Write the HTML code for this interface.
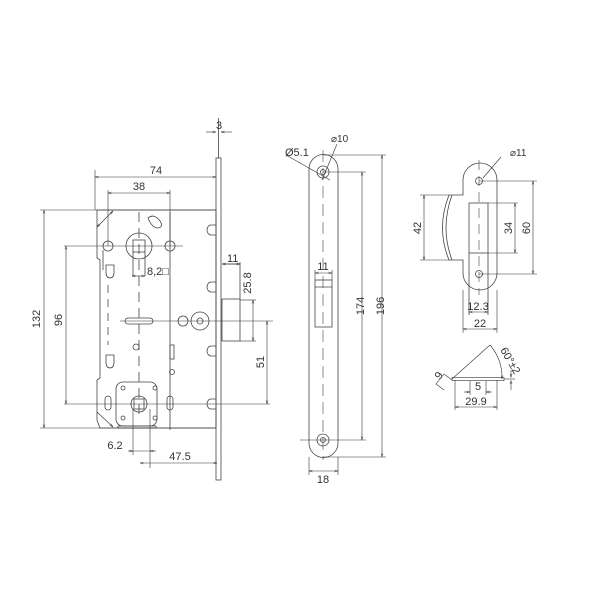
<!DOCTYPE html>
<html><head><meta charset="utf-8"><style>
html,body{margin:0;padding:0;background:#fff;}
svg{display:block;}
text{font-family:"Liberation Sans",sans-serif;font-size:11px;fill:#333;}
</style></head><body>
<svg width="600" height="600" viewBox="0 0 600 600" xmlns="http://www.w3.org/2000/svg">
<defs>
<marker id="a" viewBox="0 0 10 10" refX="10" refY="5" markerWidth="6" markerHeight="6" orient="auto-start-reverse"><path d="M0,2 L10,5 L0,8" fill="none" stroke="#333" stroke-width="1.2"/></marker>
</defs>
<g stroke="#444" stroke-width="0.8" fill="none">
<rect x="216" y="158" width="5" height="322"/>
<line x1="218.5" y1="118" x2="218.5" y2="158"/>
<path d="M97,210 L216,210 L216,428 L100,428 L97,420 L97,380 L100,378 L100,260 L97,258 Z"/>
<line x1="103" y1="250" x2="103" y2="270"/>
<circle cx="139" cy="246" r="13"/>
<rect x="133" y="240" width="12" height="12"/>
<line x1="133" y1="252" x2="133" y2="276"/><line x1="145" y1="252" x2="145" y2="276"/>
<circle cx="108" cy="246" r="5"/><circle cx="170" cy="246" r="5"/>
<path d="M148,218 q6,-5 12,3 q4,6 -2,7 q-6,0 -10,-10z"/>
<path d="M106,265 h8 v7 q0,6 -4,6 q-4,0 -4,-6z"/><path d="M106,355 h8 v7 q0,6 -4,6 q-4,0 -4,-6z"/>
<line x1="108" y1="285" x2="108" y2="345" stroke-dasharray="8,6"/>
<line x1="139" y1="212" x2="139" y2="420" stroke-dasharray="10,6"/>
<line x1="170" y1="212" x2="170" y2="430"/>
<rect x="125" y="318" width="28" height="6" rx="3"/>
<circle cx="183" cy="321" r="5"/><circle cx="200" cy="321" r="9"/><circle cx="200" cy="321" r="3"/>
<circle cx="136" cy="347" r="3"/><rect x="170" y="345" width="4" height="14"/>
<circle cx="172" cy="372" r="2.5"/>
<rect x="116" y="382" width="41" height="44" rx="7"/>
<rect x="118" y="426" width="38" height="2"/>
<circle cx="139" cy="404" r="8"/><rect x="134" y="399" width="10" height="10"/>
<circle cx="123" cy="388" r="2"/><circle cx="155" cy="388" r="2"/><circle cx="123" cy="418" r="2"/><circle cx="155" cy="418" r="2"/>
<rect x="105" y="396" width="6" height="14" rx="3"/><rect x="167" y="396" width="6" height="14" rx="3"/>
<path d="M216,225 h-5 a4,5 0 0 0 0,10 h5"/><path d="M216,282 h-5 a4,5 0 0 0 0,10 h5"/>
<path d="M216,346 h-5 a4,5 0 0 0 0,10 h5"/><path d="M216,399 h-5 a4,5 0 0 0 0,10 h5"/>
<rect x="222" y="299" width="18" height="42"/><line x1="222" y1="264" x2="240" y2="264"/>
<line x1="240" y1="262" x2="240" y2="299"/>
</g>
<g stroke="#333" stroke-width="0.6" fill="none">
<line x1="95" y1="170" x2="95" y2="210"/>
<line x1="95" y1="177" x2="216" y2="177" marker-start="url(#a)" marker-end="url(#a)"/>
<line x1="108" y1="190" x2="108" y2="246"/><line x1="170" y1="190" x2="170" y2="246"/>
<line x1="108" y1="193" x2="170" y2="193" marker-start="url(#a)" marker-end="url(#a)"/>
<line x1="40" y1="210" x2="216" y2="210"/><line x1="40" y1="428" x2="216" y2="428"/>
<line x1="44" y1="210" x2="44" y2="428" marker-start="url(#a)" marker-end="url(#a)"/>
<line x1="64" y1="246" x2="183" y2="246"/><line x1="64" y1="404" x2="270" y2="404"/>
<line x1="66" y1="246" x2="66" y2="404" marker-start="url(#a)" marker-end="url(#a)"/>
<line x1="97" y1="227" x2="113" y2="211" marker-start="url(#a)" marker-end="url(#a)"/>
<line x1="97" y1="412" x2="113" y2="427" marker-end="url(#a)"/>
<line x1="120" y1="321" x2="273" y2="321"/>
<line x1="132" y1="276" x2="145" y2="276" marker-start="url(#a)" marker-end="url(#a)"/>
<line x1="222" y1="264" x2="240" y2="264" marker-start="url(#a)" marker-end="url(#a)"/>
<line x1="240" y1="300" x2="256" y2="300"/><line x1="240" y1="341" x2="256" y2="341"/>
<line x1="253" y1="300" x2="253" y2="341" marker-start="url(#a)" marker-end="url(#a)"/>
<line x1="267" y1="321" x2="267" y2="404" marker-start="url(#a)" marker-end="url(#a)"/>
<line x1="206" y1="132" x2="216" y2="132" marker-end="url(#a)"/><line x1="232" y1="132" x2="221" y2="132" marker-end="url(#a)"/>
<line x1="133" y1="409" x2="133" y2="455"/><line x1="150" y1="409" x2="150" y2="468"/>
<line x1="128" y1="451" x2="133" y2="451" marker-end="url(#a)"/><line x1="133" y1="451" x2="150" y2="451"/><line x1="156" y1="451" x2="150" y2="451" marker-end="url(#a)"/>
<line x1="140" y1="463" x2="217" y2="463" marker-start="url(#a)" marker-end="url(#a)"/>
</g>
<g>
<text x="156" y="174" text-anchor="middle">74</text>
<text x="139" y="190" text-anchor="middle">38</text>
<text x="147" y="275">8,2□</text>
<text x="227" y="262">11</text>
<text x="219" y="129" text-anchor="middle">3</text>
<text x="115" y="449" text-anchor="middle">6.2</text>
<text x="180" y="460" text-anchor="middle">47.5</text>
<text transform="translate(40 319) rotate(-90)" text-anchor="middle">132</text>
<text transform="translate(62 320) rotate(-90)" text-anchor="middle">96</text>
<text transform="translate(251 283) rotate(-90)" text-anchor="middle">25.8</text>
<text transform="translate(264 362) rotate(-90)" text-anchor="middle">51</text>
</g>
<g stroke="#444" stroke-width="0.8" fill="none">
<path d="M309,169 a14.5,14.5 0 0 1 29,0 V443 a14.5,14.5 0 0 1 -29,0 Z"/>
<circle cx="323" cy="172" r="6"/><circle cx="323" cy="172" r="2.5"/>
<circle cx="323" cy="440" r="6"/><circle cx="323" cy="440" r="2.5"/>
<rect x="315" y="280" width="17" height="47"/><line x1="315" y1="287" x2="332" y2="287"/>
<line x1="323" y1="150" x2="323" y2="460" stroke-dasharray="12,6" stroke-width="0.6"/>
</g>
<g stroke="#333" stroke-width="0.6" fill="none">
<line x1="323" y1="172" x2="366" y2="172"/><line x1="300" y1="440" x2="366" y2="440"/>
<line x1="362" y1="172" x2="362" y2="440" marker-start="url(#a)" marker-end="url(#a)"/>
<line x1="323" y1="155" x2="386" y2="155"/><line x1="323" y1="457" x2="386" y2="457"/>
<line x1="382" y1="155" x2="382" y2="457" marker-start="url(#a)" marker-end="url(#a)"/>
<line x1="309" y1="457" x2="309" y2="475"/><line x1="338" y1="457" x2="338" y2="475"/>
<line x1="309" y1="471" x2="338" y2="471" marker-start="url(#a)" marker-end="url(#a)"/>
<line x1="286" y1="155" x2="330" y2="180"/>
<line x1="337" y1="144" x2="322" y2="180"/>
<line x1="315" y1="280" x2="315" y2="270"/><line x1="332" y1="280" x2="332" y2="270"/>
<line x1="315" y1="273" x2="332" y2="273" marker-start="url(#a)" marker-end="url(#a)"/>
</g>
<text x="285" y="156">Ø5.1</text><text x="331" y="142" style="font-size:10px">⌀10</text>
<text x="323" y="270" text-anchor="middle">11</text>
<text x="323" y="483" text-anchor="middle">18</text>
<text transform="translate(364 306) rotate(-90)" text-anchor="middle">174</text>
<text transform="translate(384 306) rotate(-90)" text-anchor="middle">196</text>
<g stroke="#444" stroke-width="0.8" fill="none">
<path d="M463,195 V180 a17,17 0 0 1 34,0 V273 a17,17 0 0 1 -34,0 V260 H449 Q436,228 449,195 Z"/>
<path d="M452,195 Q440,228 452,260"/>
<rect x="469" y="203" width="19" height="50"/>
<circle cx="479" cy="181" r="3.5"/><circle cx="479" cy="274" r="3.5"/>
<line x1="479" y1="160" x2="479" y2="295" stroke-dasharray="10,6" stroke-width="0.6"/>
<line x1="469" y1="253" x2="469" y2="315"/><line x1="488" y1="253" x2="488" y2="315"/>
</g>
<g stroke="#333" stroke-width="0.6" fill="none">
<line x1="420" y1="195" x2="449" y2="195"/><line x1="420" y1="260" x2="449" y2="260"/>
<line x1="424" y1="195" x2="424" y2="260" marker-start="url(#a)" marker-end="url(#a)"/>
<line x1="488" y1="203" x2="518" y2="203"/><line x1="488" y1="253" x2="518" y2="253"/>
<line x1="515" y1="203" x2="515" y2="253" marker-start="url(#a)" marker-end="url(#a)"/>
<line x1="479" y1="181" x2="537" y2="181"/><line x1="479" y1="274" x2="537" y2="274"/>
<line x1="533" y1="181" x2="533" y2="274" marker-start="url(#a)" marker-end="url(#a)"/>
<line x1="469" y1="312" x2="488" y2="312" marker-start="url(#a)" marker-end="url(#a)"/>
<line x1="463" y1="290" x2="463" y2="333"/><line x1="497" y1="290" x2="497" y2="333"/>
<line x1="463" y1="329" x2="497" y2="329" marker-start="url(#a)" marker-end="url(#a)"/>
<line x1="501" y1="157" x2="483" y2="178"/>
<line x1="452" y1="379" x2="490" y2="345"/>
<path d="M490,345 A50,50 0 0 1 502,379" marker-end="url(#a)"/>
<rect x="452" y="377.5" width="52" height="3"/>
<line x1="504" y1="379" x2="515" y2="379"/>
<line x1="511" y1="370" x2="511" y2="377.5" marker-end="url(#a)"/><line x1="511" y1="390" x2="511" y2="380.5" marker-end="url(#a)"/>
<path d="M452,380 l-8,-6 l-8,10 l8,6"/>
<line x1="455" y1="380" x2="455" y2="410"/><line x1="497" y1="380" x2="497" y2="410"/>
<line x1="455" y1="407" x2="497" y2="407" marker-start="url(#a)" marker-end="url(#a)"/>
<line x1="470" y1="381" x2="470" y2="395"/><line x1="486" y1="381" x2="486" y2="395"/>
<line x1="464" y1="392" x2="470" y2="392" marker-end="url(#a)"/><line x1="492" y1="392" x2="486" y2="392" marker-end="url(#a)"/>
</g>
<text x="510" y="156" style="font-size:10px">⌀11</text>
<text transform="translate(421 228) rotate(-90)" text-anchor="middle">42</text>
<text transform="translate(512 228) rotate(-90)" text-anchor="middle">34</text>
<text transform="translate(530 228) rotate(-90)" text-anchor="middle">60</text>
<text x="478" y="310" text-anchor="middle">12.3</text>
<text x="480" y="327" text-anchor="middle">22</text>
<text x="478" y="390" text-anchor="middle">5</text>
<text x="476" y="405" text-anchor="middle">29.9</text>
<text transform="translate(500 350) rotate(60)">60°±2</text>
<text transform="translate(440 380) rotate(-55)">9</text>
</svg>
</body></html>
